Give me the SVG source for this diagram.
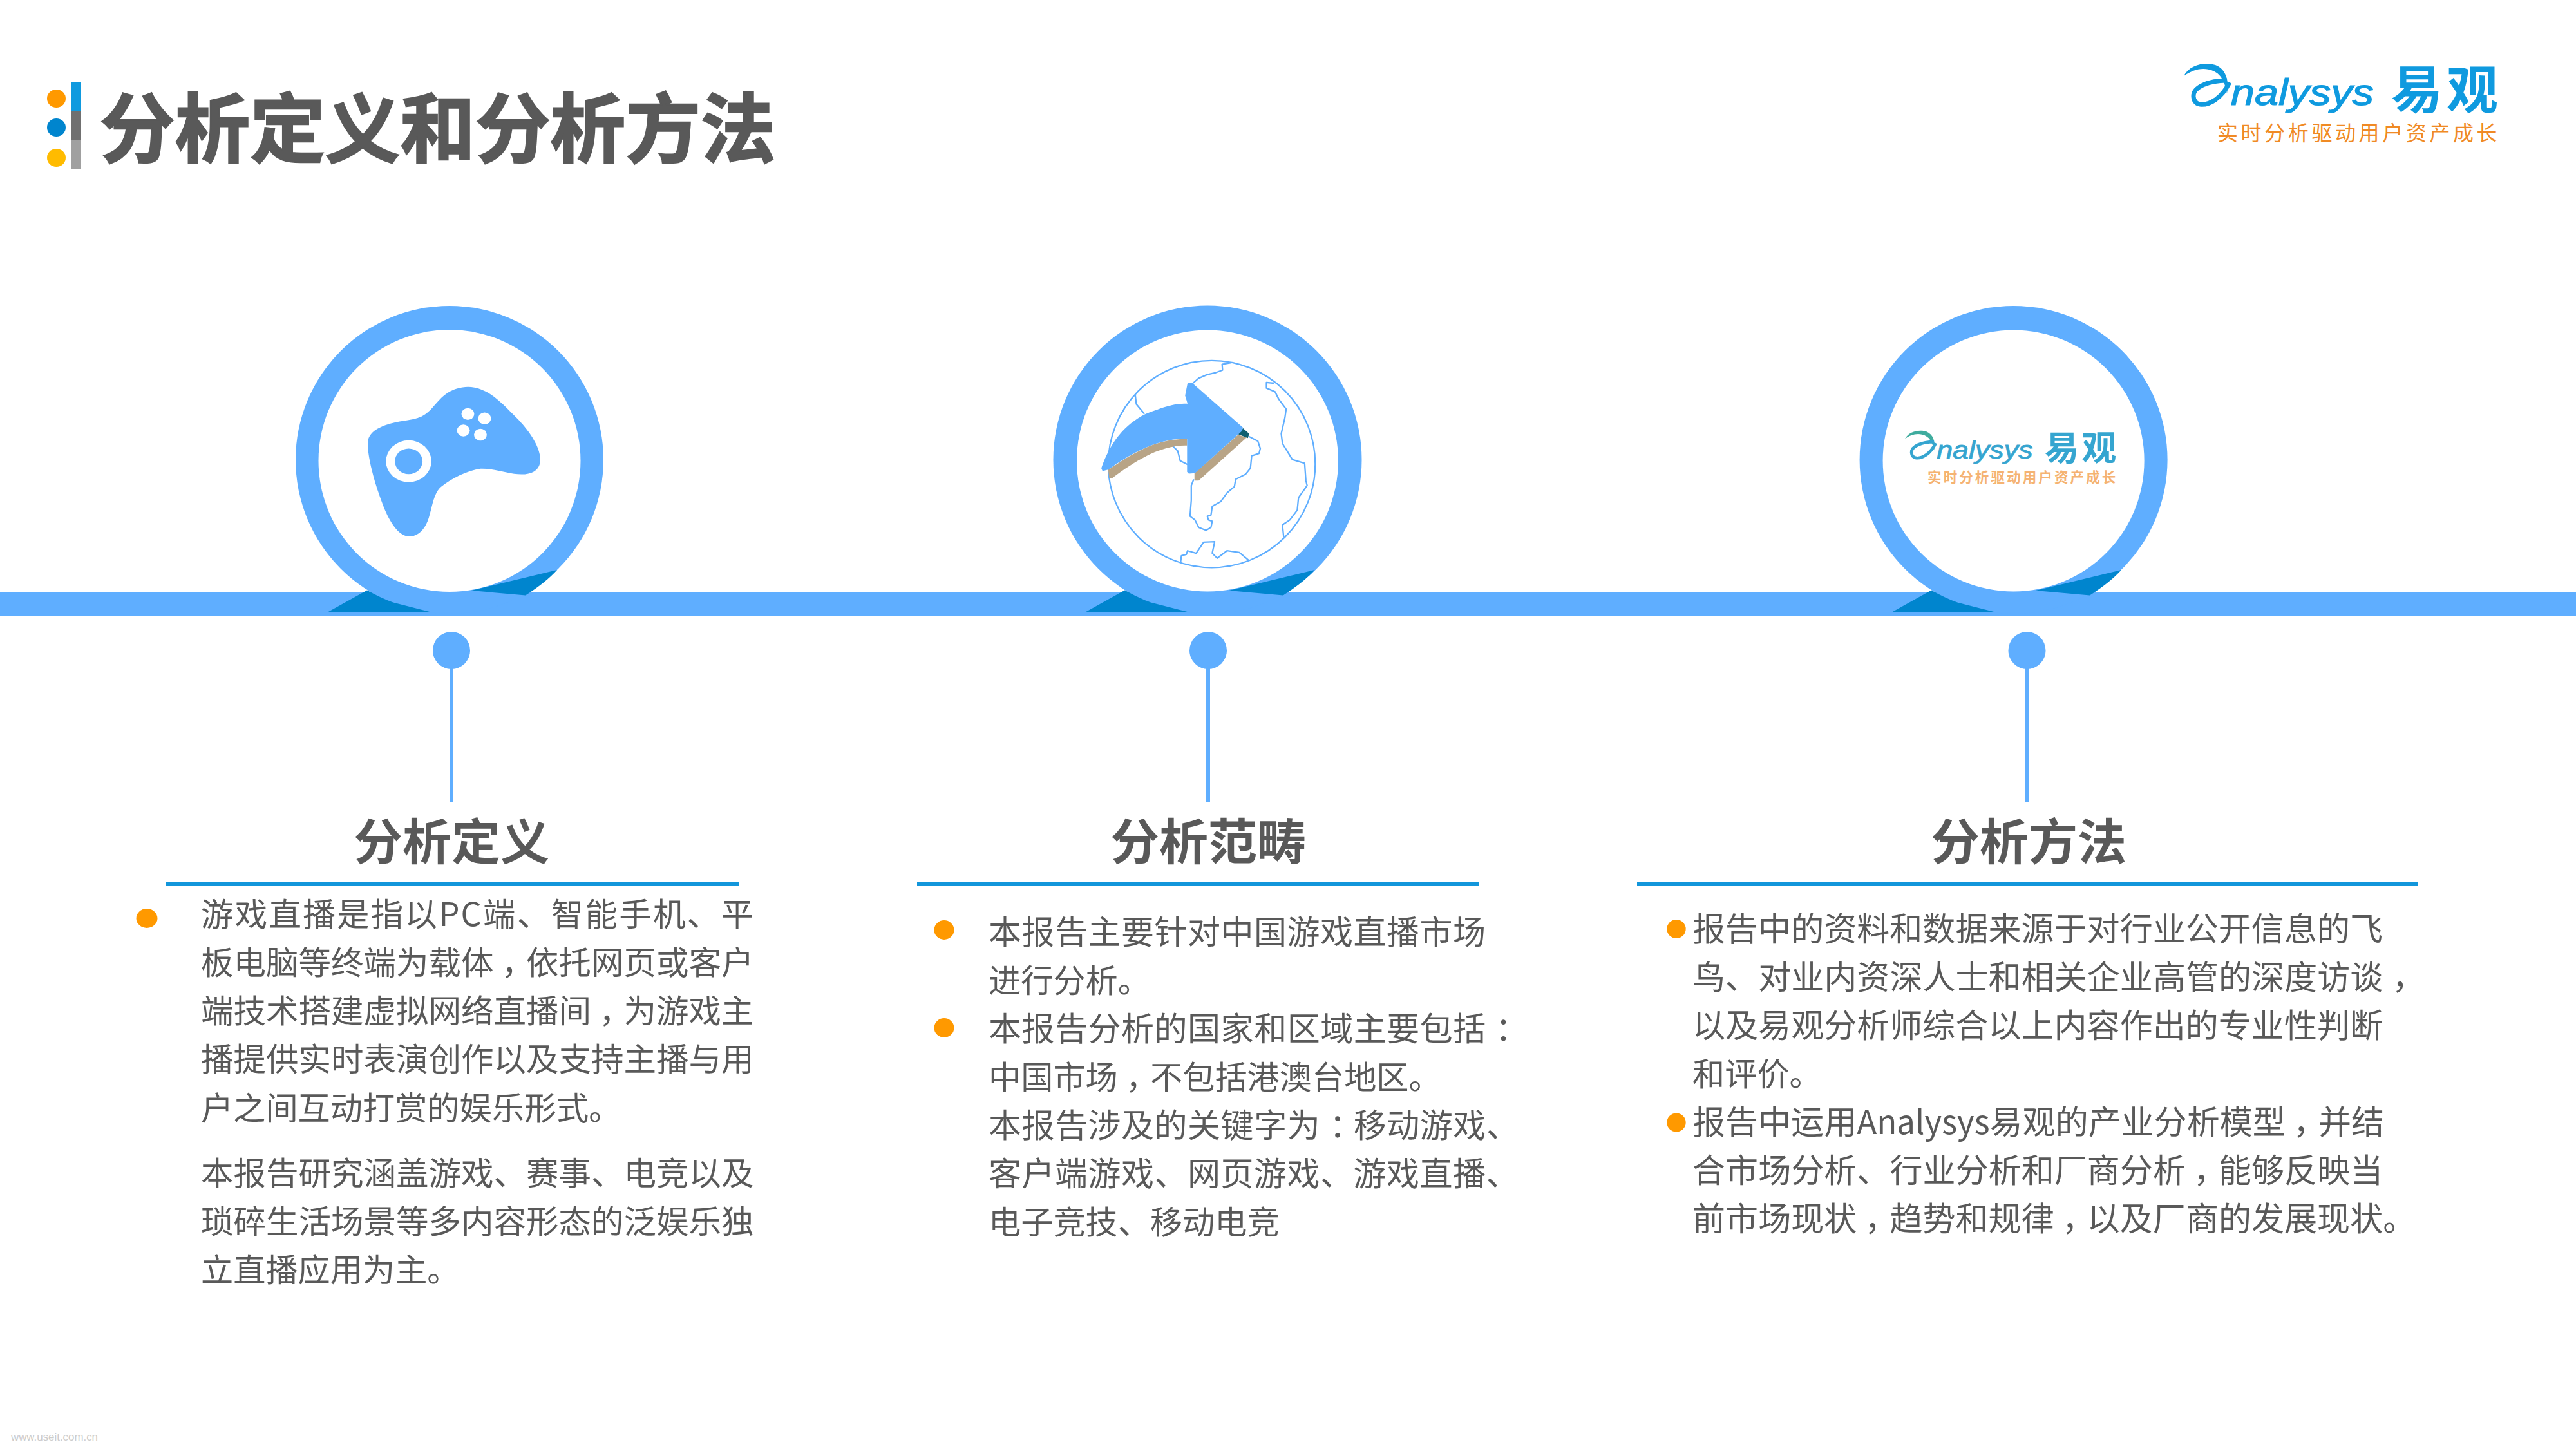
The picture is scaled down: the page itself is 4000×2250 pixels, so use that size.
<svg xmlns="http://www.w3.org/2000/svg" xmlns:xlink="http://www.w3.org/1999/xlink" width="4000" height="2250" viewBox="0 0 4000 2250">
<style>
text{font-family:"Noto Sans CJK SC","Liberation Sans",sans-serif}
.b{font-size:51px;fill:#595959}
.b1{font-size:50.500px}
.b2{letter-spacing:.5px}
.b3{letter-spacing:.05px}
.s{font-size:50.200px}
.h{font-size:76px;font-weight:700;fill:#595959;text-anchor:middle}
.ring{fill:#5FAEFF}
.hole{fill:#fff}
.rule{fill:#1296DB}
.bul{fill:#FF9900}
.stem{stroke:#5FAEFF;stroke-width:6;fill:none}
.dot{fill:#5FAEFF}
.fold{fill:#0085CE}
.geo{fill:none;stroke:#5FAEFF;stroke-width:6;stroke-linejoin:round}
.lt{font-family:"Liberation Sans",sans-serif;font-style:italic;stroke-width:1.2px}
</style>
<defs>
<g id="folds">
<path class="fold" d="M508 951L570 916.500Q590 928 610.500 935.600L671 951Z"/>
<path class="fold" d="M732 917L865 885Q848 904 816 924.500Z"/>
</g>
</defs>
<rect width="4000" height="2250" fill="#fff"/>
<g id="title">
<rect x="111" y="127" width="15" height="45" fill="#0F9ADF"/>
<rect x="111" y="172" width="15" height="45" fill="#707070"/>
<rect x="111" y="217" width="15" height="45" fill="#A0A0A0"/>
<ellipse cx="87.500" cy="153" rx="14.500" ry="14" fill="#FF9900"/>
<ellipse cx="87.500" cy="198" rx="14.500" ry="14" fill="#0085CE"/>
<ellipse cx="87.500" cy="245" rx="14.500" ry="14" fill="#FFBB00"/>
<text x="155" y="243" font-size="116.600" font-weight="700" fill="#595959" stroke="#595959" stroke-width="2.500">分析定义和分析方法</text>
</g>
<g id="logo">
<path fill="#0F9ADF" d="M3391 118C3400 100 3425 96 3440 101C3456 107 3462 125 3458 145C3454 125 3448 112 3430 108C3415 105 3403 110 3391 118Z"/>
<path fill="none" stroke="#0F9ADF" stroke-width="7" d="M3458 125C3430 125 3405 135 3406 150C3407 166 3425 165 3440 155C3450 148 3456 140 3462 128"/>
<text class="lt" x="3464" y="163" font-size="57" fill="#0F9ADF" stroke="#0F9ADF" textLength="222" lengthAdjust="spacingAndGlyphs">nalysys</text>
<text x="3713" y="168" font-size="80" font-weight="700" fill="#0F9ADF" letter-spacing="6">易观</text>
<text x="3443" y="218" font-size="32" fill="#F08A24" letter-spacing="4.600">实时分析驱动用户资产成长</text>
</g>
<g id="connectors">
<rect id="band" x="0" y="920" width="4000" height="37" fill="#5FAEFF"/>
<path class="stem" d="M701 1030V1246"/>
<path class="stem" d="M1876 1030V1246"/>
<path class="stem" d="M3147.500 1030V1246"/>
</g>
<g id="node-1">
<circle class="ring" cx="698" cy="714" r="239"/>
<circle class="hole" cx="698" cy="715.500" r="203.500"/>
<use href="#folds"/>
<g transform="translate(400 440) scale(.3827)">
<path class="ring" d="M447 650C447 610 480 590 520 575C570 555 620 560 665 540C710 518 720 480 770 445C810 420 860 412 905 430C960 450 1000 495 1050 545C1095 590 1147 660 1147 715C1147 760 1110 775 1070 775C1020 775 960 750 905 752C850 760 790 790 745 825C715 850 710 900 695 950C680 1000 650 1027 615 1027C570 1027 530 960 505 890C475 810 447 710 447 650Z"/>
<ellipse class="hole" cx="613" cy="722" rx="92" ry="85"/>
<ellipse class="ring" cx="613" cy="722" rx="56" ry="52"/>
<ellipse class="hole" cx="853" cy="530" rx="26" ry="24"/>
<ellipse class="hole" cx="921" cy="548" rx="26" ry="24"/>
<ellipse class="hole" cx="835" cy="597" rx="26" ry="24"/>
<ellipse class="hole" cx="904" cy="614" rx="26" ry="24"/>
</g>
<circle class="dot" cx="701" cy="1010" r="29"/>
<text class="h" x="701" y="1335">分析定义</text>
<rect class="rule" x="257" y="1369" width="891" height="6"/>
<ellipse class="bul" cx="228" cy="1426" rx="16.500" ry="15"/>
<text class="b b1" x="312" y="1438" textLength="858">游戏直播是指以PC端、智能手机、平</text>
<text class="b b1" x="312" y="1513" dx="0 0 0 0 0 0 0 0 0 12 -12">板电脑等终端为载体，依托网页或客户</text>
<text class="b b1" x="312" y="1588" dx="0 0 0 0 0 0 0 0 0 0 0 0 12 -12">端技术搭建虚拟网络直播间，为游戏主</text>
<text class="b b1" x="312" y="1663">播提供实时表演创作以及支持主播与用</text>
<text class="b s" x="312" y="1739">户之间互动打赏的娱乐形式。</text>
<text class="b b1" x="312" y="1840">本报告研究涵盖游戏、赛事、电竞以及</text>
<text class="b b1" x="312" y="1915">琐碎生活场景等多内容形态的泛娱乐独</text>
<text class="b s" x="312" y="1990">立直播应用为主。</text>
</g>
<g id="node-2">
<circle class="ring" cx="1875" cy="714" r="239.500"/>
<circle class="hole" cx="1875" cy="715.500" r="203"/>
<use href="#folds" transform="translate(1176.500 0)"/>
<g transform="translate(1580 440) scale(.3827)">
<circle class="geo" cx="788" cy="733" r="420"/>
<path class="geo" d="M868 322L830 328L832 352L805 362L770 370L735 385L712 405"/>
<path class="geo" d="M478 455L482 490L515 530"/>
<path class="geo" d="M630 660L650 680L660 720L690 735"/>
<path class="geo" d="M940 622L975 640L985 670L980 690L950 700L945 750L925 775L885 795L880 825L850 850L825 885L790 905L785 940L770 945L775 960L790 965L785 990L765 1002L735 990L720 960L700 945L705 880L705 820L715 795"/>
<path class="geo" d="M1040 405L1010 402L1010 425L1045 440L1060 470L1090 510L1085 545L1070 610L1075 650L1100 690L1115 715L1165 730L1170 800L1175 820L1140 870L1135 920L1105 960L1075 980L1080 1030"/>
<path class="geo" d="M662 1130L665 1105L685 1100L690 1085L725 1095L755 1050L800 1048L790 1095L810 1115L850 1085L900 1092L940 1125"/>
<path fill="#B8A486" d="M368 757C480 680 570 630 688 632L688 658C590 655 490 710 385 790L372 790Z"/>
<path fill="#B8A486" d="M718 770L895 615L930 625L735 800L718 800Z"/>
<path fill="#0F5F70" d="M895 612L915 588L940 610L935 628Z"/>
<path class="ring" d="M340 750C375 650 430 575 520 530C620 490 650 488 690 488L680 455L690 405L710 405L915 585L910 600L720 770L695 772L688 765L688 630C600 630 500 660 370 755L345 762Z"/>
</g>
<circle class="dot" cx="1876" cy="1010" r="29"/>
<text class="h" x="1876" y="1335">分析范畴</text>
<rect class="rule" x="1424" y="1369" width="873" height="6"/>
<ellipse class="bul" cx="1466" cy="1444" rx="15.500" ry="15"/>
<ellipse class="bul" cx="1466" cy="1596" rx="15.500" ry="15"/>
<text class="b b2" x="1535" y="1466">本报告主要针对中国游戏直播市场</text>
<text class="b s" x="1535" y="1541">进行分析。</text>
<text class="b b2" x="1535" y="1616" dx="0 0 0 0 0 0 0 0 0 0 0 0 0 0 0 14">本报告分析的国家和区域主要包括：</text>
<text class="b s" x="1535" y="1691" dx="0 0 0 0 12 -12">中国市场，不包括港澳台地区。</text>
<text class="b b2" x="1535" y="1766" dx="0 0 0 0 0 0 0 0 0 0 14 -14">本报告涉及的关键字为：移动游戏、</text>
<text class="b b2" x="1535" y="1841">客户端游戏、网页游戏、游戏直播、</text>
<text class="b s" x="1535" y="1916">电子竞技、移动电竞</text>
</g>
<g id="node-3">
<circle class="ring" cx="3126.600" cy="714" r="239"/>
<circle class="hole" cx="3126.600" cy="715.500" r="203"/>
<use href="#folds" transform="translate(2429 0)"/>
<g id="logo-small" transform="translate(675.900 602) scale(.673)" opacity=".85">
<path fill="#1E9E8E" d="M3391 118C3400 100 3425 96 3440 101C3456 107 3462 125 3458 145C3454 125 3448 112 3430 108C3415 105 3403 110 3391 118Z"/>
<path fill="none" stroke="#1296C8" stroke-width="7" d="M3458 125C3430 125 3405 135 3406 150C3407 166 3425 165 3440 155C3450 148 3456 140 3462 128"/>
<text class="lt" x="3464" y="163" font-size="57" fill="#1296C8" stroke="#1296C8" textLength="222" lengthAdjust="spacingAndGlyphs">nalysys</text>
<text x="3713" y="168" font-size="80" font-weight="700" fill="#1296C8" letter-spacing="6">易观</text>
<text x="3443" y="218" font-size="32" font-weight="700" fill="#F4A65A" letter-spacing="4.600">实时分析驱动用户资产成长</text>
</g>
<circle class="dot" cx="3147.500" cy="1010" r="29"/>
<text class="h" x="3150" y="1335">分析方法</text>
<rect class="rule" x="2542" y="1369" width="1212" height="6"/>
<ellipse class="bul" cx="2603" cy="1442.500" rx="14.700" ry="14.500"/>
<ellipse class="bul" cx="2603" cy="1743" rx="14.700" ry="14.500"/>
<text class="b b3" x="2628" y="1461">报告中的资料和数据来源于对行业公开信息的飞</text>
<text class="b b3" x="2628" y="1536" dx="0 0 0 0 0 0 0 0 0 0 0 0 0 0 0 0 0 0 0 0 0 14">鸟、对业内资深人士和相关企业高管的深度访谈，</text>
<text class="b b3" x="2628" y="1611">以及易观分析师综合以上内容作出的专业性判断</text>
<text class="b s" x="2628" y="1686">和评价。</text>
<text class="b b3" x="2628" y="1761" textLength="1074" dx="0 0 0 0 0 0 0 0 0 0 0 0 0 0 0 0 0 0 0 0 0 0 12 -12">报告中运用Analysys易观的产业分析模型，并结</text>
<text class="b b3" x="2628" y="1836" dx="0 0 0 0 0 0 0 0 0 0 0 0 0 0 0 12 -12">合市场分析、行业分析和厂商分析，能够反映当</text>
<text class="b b3" x="2628" y="1911" dx="0 0 0 0 0 12 -12 0 0 0 0 12 -12">前市场现状，趋势和规律，以及厂商的发展现状。</text>
</g>
<text id="watermark" x="17" y="2237" font-size="17" fill="#CCCCCC" textLength="135" lengthAdjust="spacingAndGlyphs" style="font-family:'Liberation Sans',sans-serif">www.useit.com.cn</text>
</svg>
